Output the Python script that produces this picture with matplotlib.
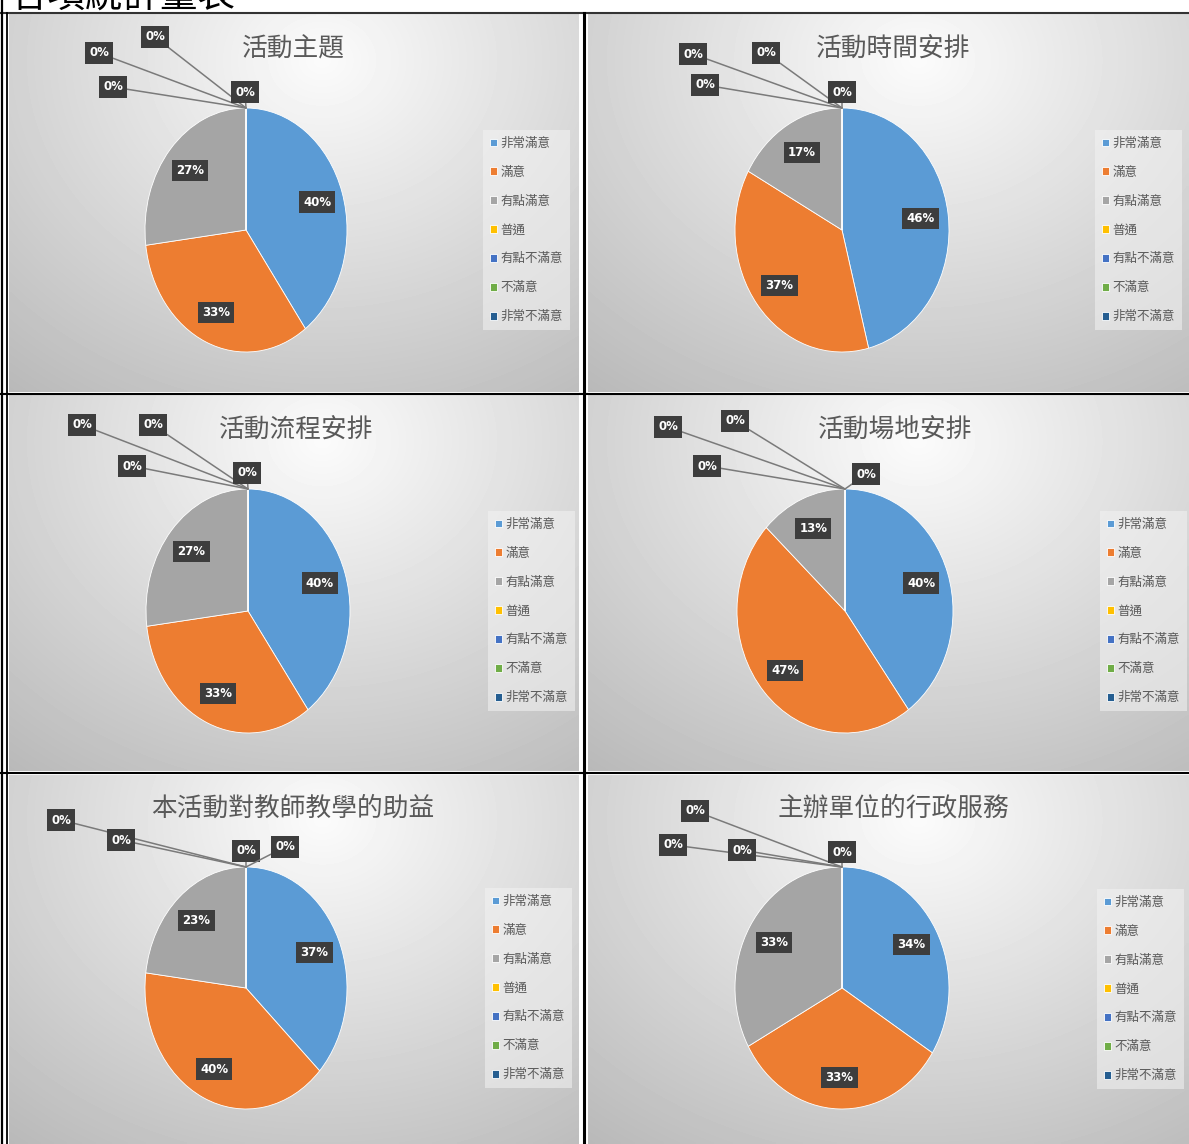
import numpy as np
import matplotlib
matplotlib.use('Agg')
import matplotlib.pyplot as plt

plt.rcParams['font.family'] = ['Noto Sans CJK TC', 'DejaVu Sans']

W, H = 1189, 1144

# ---------------- data ----------------
categories = ['非常滿意', '滿意', '有點滿意', '普通', '有點不滿意', '不滿意', '非常不滿意']
colors = ['#5B9BD5', '#ED7D31', '#A5A5A5', '#FFC000', '#4472C4', '#70AD47', '#255E91']

titles = ['活動主題', '活動時間安排', '活動流程安排', '活動場地安排',
          '本活動對教師教學的助益', '主辦單位的行政服務']
theme_vals = [40, 33, 27, 0, 0, 0, 0]
time_vals = [46, 37, 17, 0, 0, 0, 0]
flow_vals = [40, 33, 27, 0, 0, 0, 0]
venue_vals = [40, 47, 13, 0, 0, 0, 0]
benefit_vals = [37, 40, 23, 0, 0, 0, 0]
service_vals = [34, 33, 33, 0, 0, 0, 0]
series = [theme_vals, time_vals, flow_vals, venue_vals, benefit_vals, service_vals]

heading = '各項統計量表'

# ---------------- layout (pixels) ----------------
panels = [(9, 14, 579, 392), (588, 14, 1189, 392),
          (9, 395, 579, 771), (588, 395, 1189, 771),
          (9, 775, 579, 1144), (588, 775, 1189, 1144)]
pies = [(246, 230, 101, 122), (842, 230, 107, 122),
        (248, 611, 102, 122), (845, 611, 108, 122),
        (246, 988, 101, 121), (842, 988, 107, 121)]
title_pos = [(293, 50), (893, 50), (296, 431), (895, 431), (293, 809), (893, 809)]
legend_pos = [(483, 130), (1095, 130), (488, 511), (1100, 511), (485, 888), (1097, 889)]
zero_pos = [[(99, 53), (155, 37), (113, 87), (245, 92)],
            [(693, 54), (766, 53), (705, 85), (842, 92)],
            [(82, 425), (153, 425), (132, 466), (247, 473)],
            [(668, 427), (735, 421), (707, 466), (866, 474)],
            [(61, 820), (121, 840), (246, 851), (285, 847)],
            [(695, 811), (673, 845), (742, 850), (842, 852)]]

fig = plt.figure(figsize=(W / 100, H / 100), dpi=100)
fig.patch.set_facecolor('white')
base = fig.add_axes([0, 0, 1, 1])
base.set_xlim(0, W)
base.set_ylim(H, 0)
base.axis('off')

# heading (cut off at the top, as in the reference)
base.text(11, 8, heading, ha='left', va='baseline', fontsize=27, color='black',
          family=['Noto Sans CJK TC', 'DejaVu Sans'])

# panel backgrounds (radial gradient)
gy, gx = np.mgrid[0:1:120j, 0:1:160j]
for (x0, y0, x1, y1) in panels:
    d = np.sqrt(((gx - 0.55) / 0.75) ** 2 + ((gy - 0.12) / 0.95) ** 2)
    v = np.clip(0.985 - 0.22 * d, 0, 1)
    base.imshow(v, cmap='gray', vmin=0, vmax=1, extent=(x0, x1, y1, y0),
                aspect='auto', interpolation='bilinear', zorder=0)
base.set_xlim(0, W)
base.set_ylim(H, 0)

# table lines
lw2 = 1.5
base.plot([0, W], [13, 13], color='#333333', lw=lw2, zorder=3)
base.plot([1.5, 1.5], [0, H], color='black', lw=1.6, zorder=3)
base.plot([6.5, 6.5], [13, H], color='black', lw=1.3, zorder=3)
base.plot([584, 584], [13, H], color='black', lw=2.2, zorder=3)
base.plot([0, W], [393.5, 393.5], color='black', lw=lw2, zorder=3)
base.plot([0, W], [773, 773], color='black', lw=lw2, zorder=3)

box = dict(boxstyle='square,pad=0.35', fc='#3d3d3d', ec='none')

for i in range(6):
    cx, cy, rx, ry = pies[i]
    ax = fig.add_axes([(cx - rx) / W, 1 - (cy + ry) / H, 2 * rx / W, 2 * ry / H])
    wedges, _, autotexts = ax.pie(
        series[i], colors=colors, startangle=90, counterclock=False,
        autopct=lambda p: '' if p < 0.5 else f'{p:.0f}%', pctdistance=0.74,
        wedgeprops=dict(edgecolor='white', linewidth=0.6),
        textprops=dict(color='white', fontsize=8.5, fontweight='bold',
                       family='DejaVu Sans'))
    for t in autotexts:
        if t.get_text():
            t.set_bbox(box)
    ax.set_aspect('auto')
    ax.set_xlim(-1, 1)
    ax.set_ylim(-1, 1)
    ax.axis('off')

    for (px, py) in zero_pos[i]:
        ax.annotate('0%', xy=(0, 1), xycoords='data', xytext=(px, py),
                    textcoords=base.transData, ha='center', va='center',
                    color='white', fontsize=8.5, fontweight='bold', family='DejaVu Sans',
                    bbox=box, annotation_clip=False,
                    arrowprops=dict(arrowstyle='-', color='#7a7a7a', lw=1.1,
                                    shrinkA=0, shrinkB=0))

    tx, ty = title_pos[i]
    base.text(tx, ty, titles[i], ha='center', va='center', fontsize=18.5,
              color='#595959', zorder=4)

    lx, ly = legend_pos[i]
    leg = ax.legend(wedges, categories, loc='upper left',
                    bbox_to_anchor=(lx / W, 1 - ly / H), bbox_transform=fig.transFigure,
                    fontsize=9, handlelength=0.6, handleheight=0.6,
                    handletextpad=0.25, labelspacing=1.27, borderpad=0.55,
                    borderaxespad=0, frameon=True, fancybox=False)
    leg.get_frame().set_facecolor('#f3f3f3')
    leg.get_frame().set_edgecolor('none')
    leg.get_frame().set_alpha(0.55)
    for t in leg.get_texts():
        t.set_color('#595959')

fig.savefig('out.png', dpi=100)
